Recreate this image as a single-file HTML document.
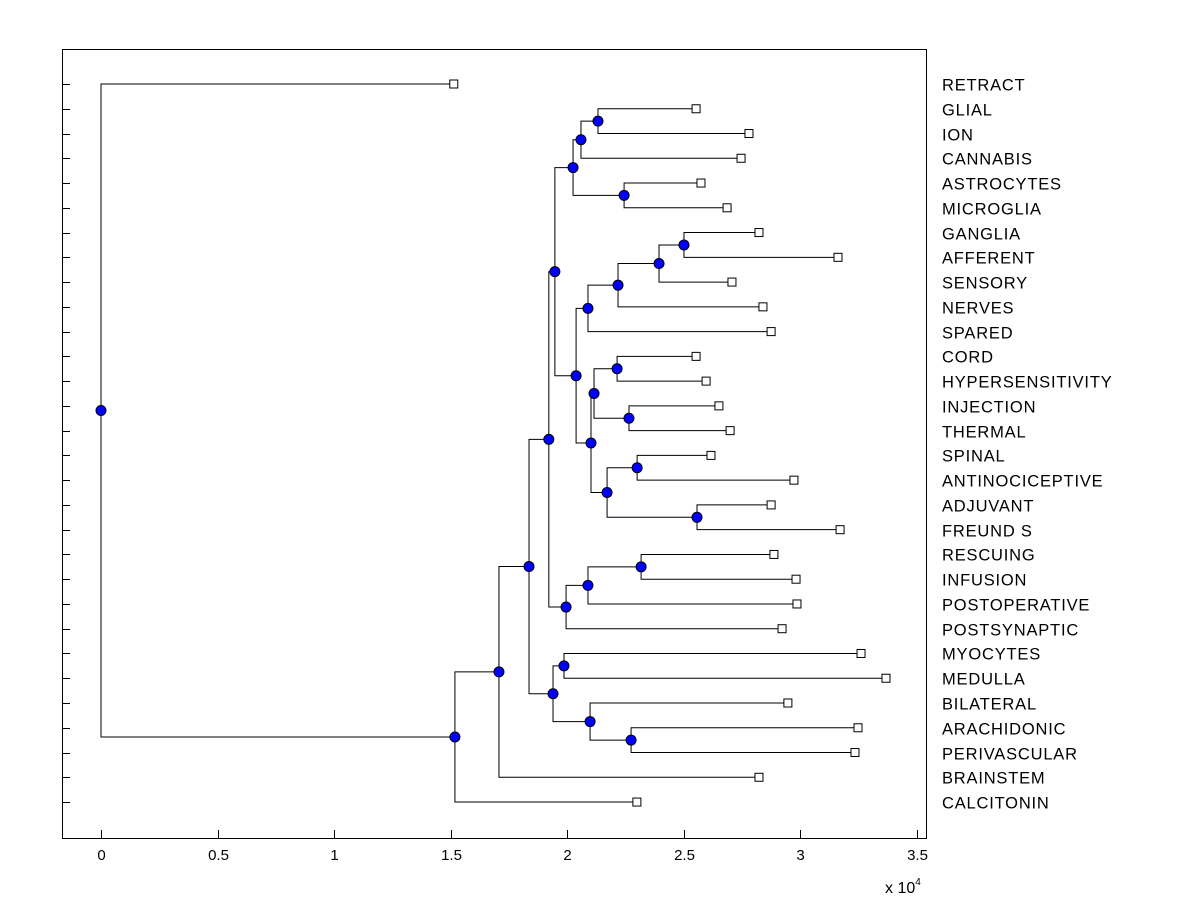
<!DOCTYPE html>
<html><head><meta charset="utf-8"><style>
html,body{margin:0;padding:0;background:#fff;width:1200px;height:900px;overflow:hidden}
svg text{font-family:"Liberation Sans",Arial,sans-serif;fill:#000}
</style></head><body>
<svg id="chart" width="1200" height="900" xmlns="http://www.w3.org/2000/svg">
<rect x="0" y="0" width="1200" height="900" fill="#fff"/>
<g id="axes"></g>
<g id="tree"></g>
</svg>
<script>
// Leaf labels (top to bottom) and their leaf-end distances (x 10^4)
const leafLabels = ["RETRACT","GLIAL","ION","CANNABIS","ASTROCYTES","MICROGLIA","GANGLIA","AFFERENT","SENSORY","NERVES","SPARED","CORD","HYPERSENSITIVITY","INJECTION","THERMAL","SPINAL","ANTINOCICEPTIVE","ADJUVANT","FREUND S","RESCUING","INFUSION","POSTOPERATIVE","POSTSYNAPTIC","MYOCYTES","MEDULLA","BILATERAL","ARACHIDONIC","PERIVASCULAR","BRAINSTEM","CALCITONIN"];
const leafValues = [1.514,2.554,2.781,2.747,2.575,2.687,2.824,3.163,2.708,2.841,2.876,2.554,2.597,2.652,2.700,2.618,2.974,2.876,3.172,2.888,2.983,2.987,2.923,3.262,3.369,2.948,3.249,3.236,2.824,2.300];
// Merges: [childA, childB] (leaf index i => "L"+i, node j => "N"+j) and merge heights
const mergeChildren = [
 ["L1","L2"],["N0","L3"],["L4","L5"],["N1","N2"],
 ["L6","L7"],["N4","L8"],["N5","L9"],["N6","L10"],
 ["L11","L12"],["L13","L14"],["N8","N9"],["L15","L16"],["L17","L18"],["N11","N12"],["N10","N13"],["N7","N14"],
 ["N3","N15"],["L19","L20"],["N17","L21"],["N18","L22"],["N16","N19"],
 ["L23","L24"],["L26","L27"],["L25","N22"],["N21","N23"],["N20","N24"],["N25","L28"],["N26","L29"],["L0","N27"]
];
const mergeValues = [2.133,2.060,2.245,2.026,2.502,2.395,2.219,2.090,2.215,2.266,2.116,2.301,2.558,2.172,2.103,2.039,1.948,2.318,2.090,1.996,1.922,1.987,2.275,2.099,1.940,1.837,1.708,1.519,0.000];
const xTicks = [0,0.5,1,1.5,2,2.5,3,3.5];
const xTickLabels = ["0","0.5","1","1.5","2","2.5","3","3.5"];

const L=62,T=49,R=926,B=838;
const xs = v => 101 + v*233;
const ys = i => 84 + i*24.76;
const NS="http://www.w3.org/2000/svg";
function mk(tag, attrs, parent){const e=document.createElementNS(NS,tag);for(const k in attrs)e.setAttribute(k,attrs[k]);parent.appendChild(e);return e;}
const axes=document.getElementById('axes'), tree=document.getElementById('tree');

let box=mk('rect',{x:L+0.5,y:T+0.5,width:R-L,height:B-T,fill:'none',stroke:'#000','stroke-width':1},axes);


xTicks.forEach((t,i)=>{
  const x=Math.round(xs(t))+0.5;
  let tk=mk('line',{x1:x,x2:x,y1:B,y2:B-8,stroke:'#000'},axes);
  
  
  let tl=mk('text',{x:x,y:B+22,'font-size':15,'text-anchor':'middle'},axes);
  tl.textContent=xTickLabels[i];
  
  
});
let ex=mk('text',{x:885,y:893,'font-size':16},axes);
ex.innerHTML='x 10<tspan dy="-8" font-size="10">4</tspan>';



leafLabels.forEach((lab,i)=>{
  const y=Math.round(ys(i))+0.5;
  let tk=mk('line',{x1:L,x2:L+8,y1:y,y2:y,stroke:'#000'},axes);
  
  
  let t=mk('text',{x:942,y:y+6,'font-size':16.5,'letter-spacing':0.8},axes);
  t.textContent=lab;
  
  
});

const pos={};
leafValues.forEach((v,i)=>{pos["L"+i]={x:xs(v),y:ys(i)};});
mergeChildren.forEach((c,j)=>{
  const a=pos[c[0]],b=pos[c[1]],x=xs(mergeValues[j]),y=(a.y+b.y)/2;
  pos["N"+j]={x,y};
  let p=mk('path',{d:`M${a.x},${a.y}H${x}V${b.y}H${b.x}`,fill:'none',stroke:'#000','stroke-width':1},tree);
  
  
});
leafValues.forEach((v,i)=>{
  const p=pos["L"+i];
  let s=mk('rect',{x:p.x-4,y:p.y-4,width:8,height:8,fill:'#fff',stroke:'#000'},tree);
  
  
});
mergeChildren.forEach((c,j)=>{
  const p=pos["N"+j];
  let d=mk('circle',{cx:p.x,cy:p.y,r:5,fill:'#0000ff',stroke:'#000','stroke-width':1},tree);
  
  
});
</script>
</body></html>
